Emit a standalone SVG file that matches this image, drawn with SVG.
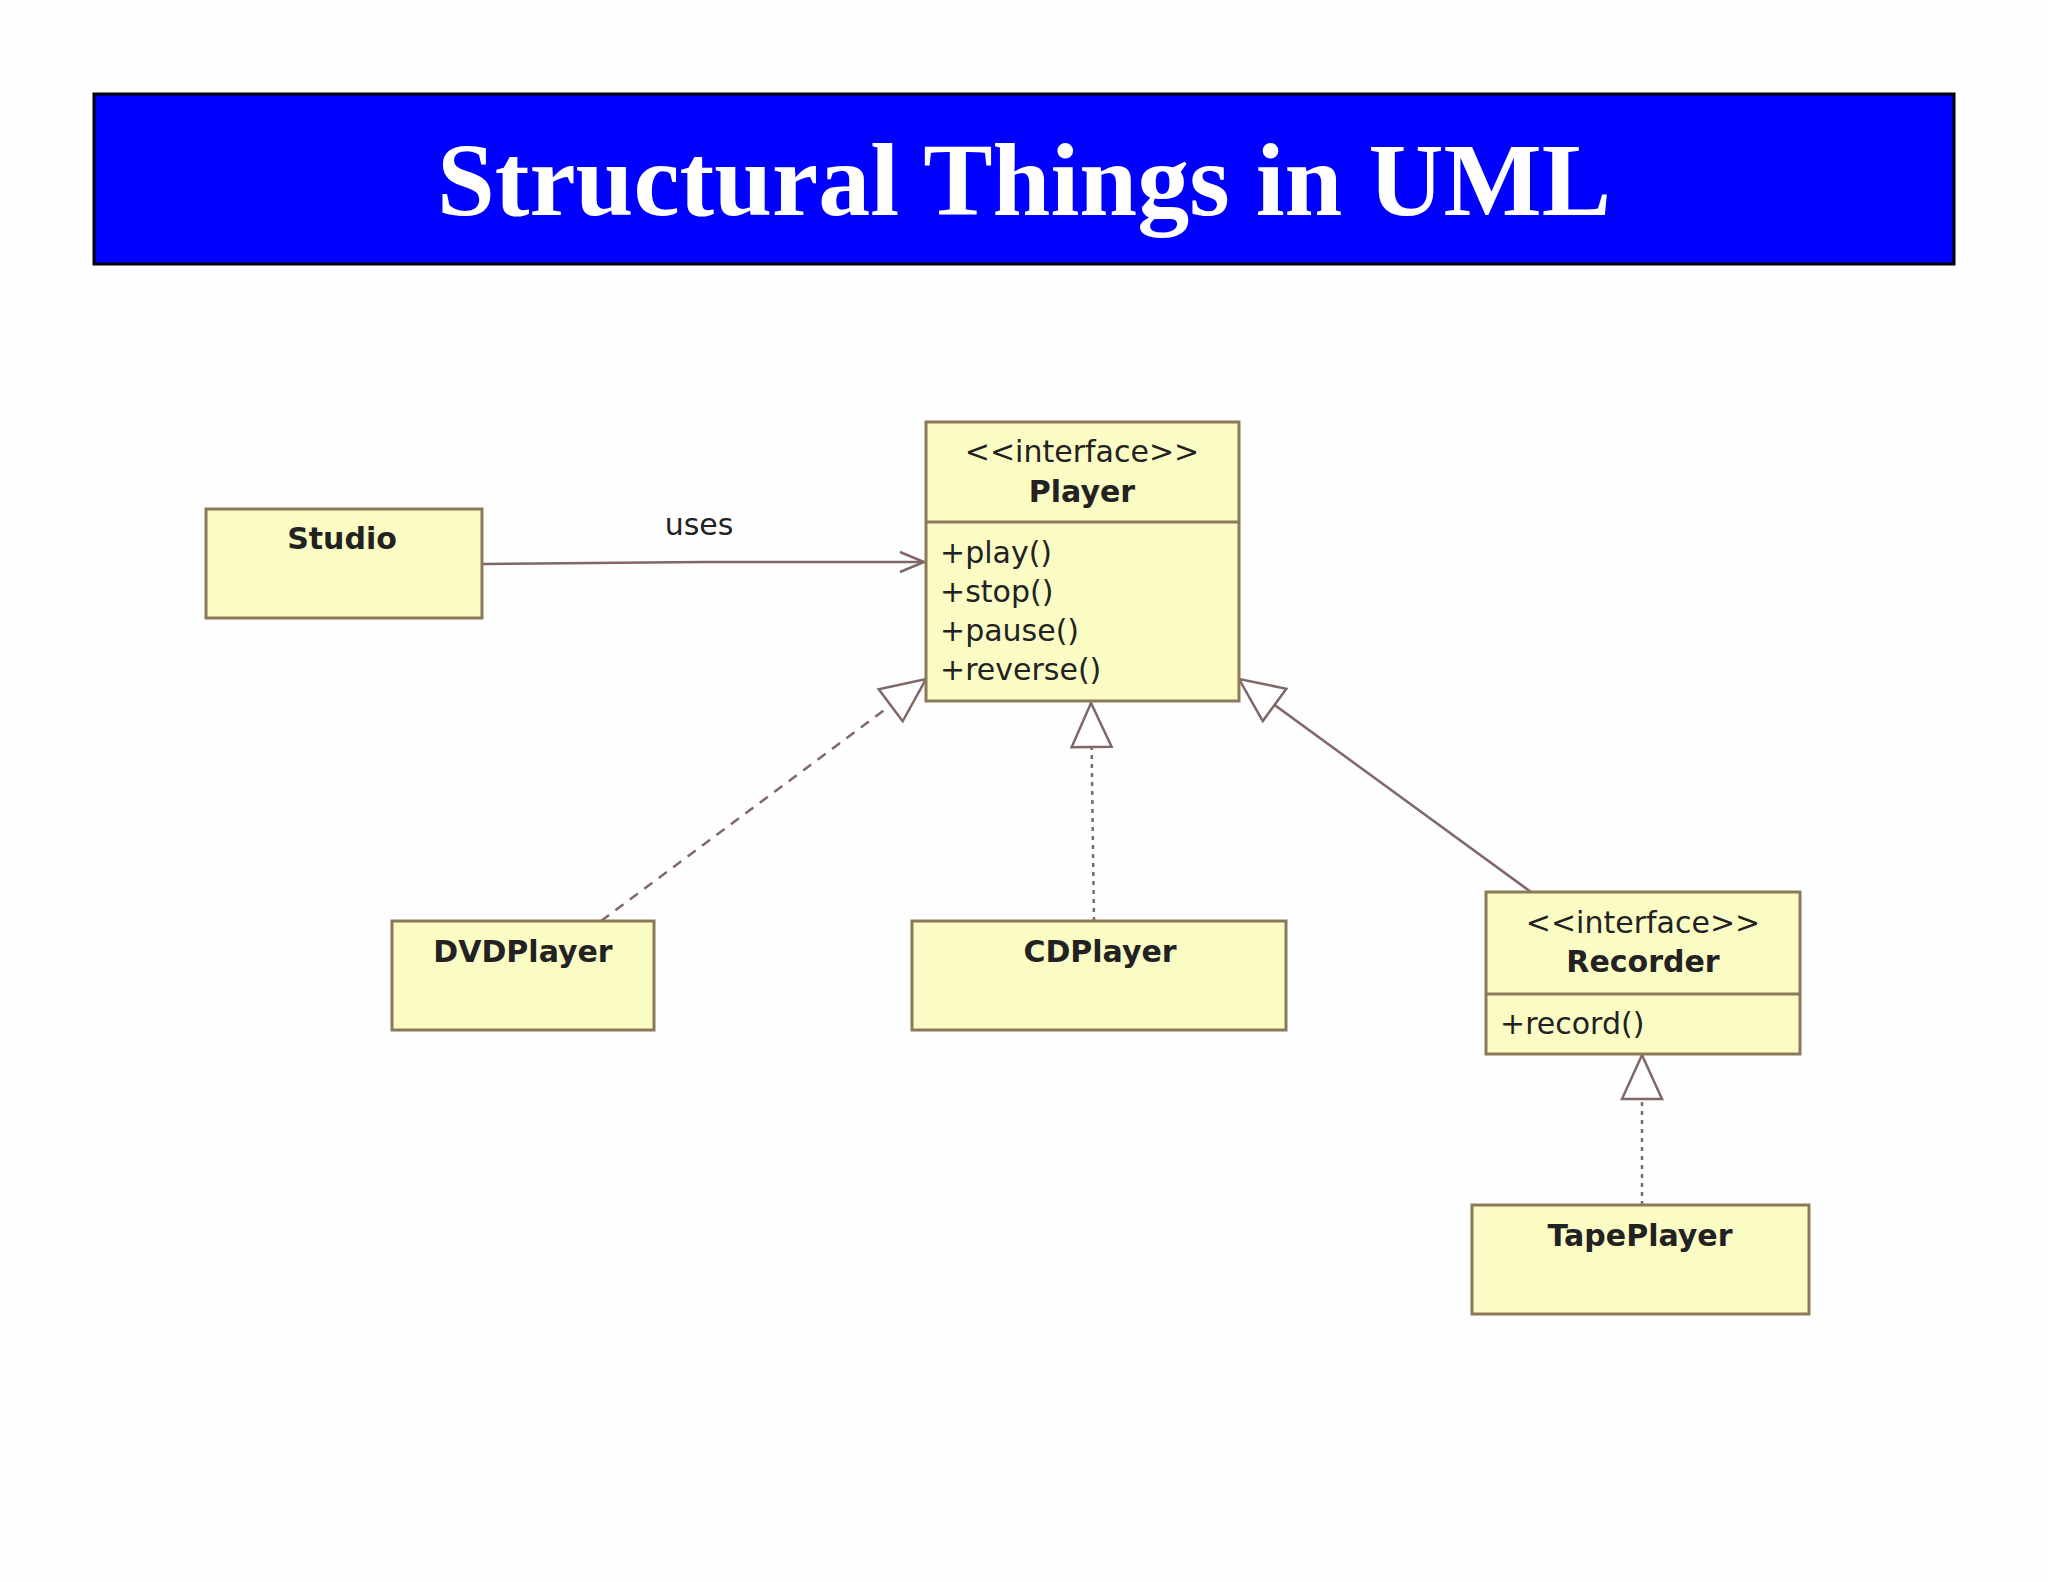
<svg xmlns="http://www.w3.org/2000/svg" width="2048" height="1582" viewBox="0 0 2048 1582">
<style>
.box{fill:#fbfbc4;stroke:#8a7a5a;stroke-width:3}
.t{font-family:"DejaVu Sans",sans-serif;font-size:30px;fill:#222;text-anchor:middle}
.b{font-weight:bold}
.m{font-family:"DejaVu Sans",sans-serif;font-size:30px;fill:#222}
.c{fill:none;stroke:#806868;stroke-width:2.5}
.dash{stroke-dasharray:10 8}
.dot{stroke-dasharray:4 5}
</style>
<defs>
<marker id="tri" markerUnits="userSpaceOnUse" markerWidth="50" markerHeight="50" refX="46" refY="22" orient="auto">
<path d="M2,2 L46,22 L2,42 Z" fill="#fff" stroke="#806868" stroke-width="2.5"/>
</marker>
<marker id="open" markerUnits="userSpaceOnUse" markerWidth="30" markerHeight="30" refX="26" refY="12" orient="auto">
<path d="M2,2 L26,12 L2,22" fill="none" stroke="#806868" stroke-width="2.5"/>
</marker>
</defs>
<rect width="2048" height="1582" fill="#fefefe"/>
<g id="title">
<rect x="94" y="94" width="1860" height="170" fill="#0000ff" stroke="#000" stroke-width="3"/>
<text x="1024" y="215" font-family="Liberation Serif, serif" font-weight="bold" font-size="104" fill="#fff" text-anchor="middle">Structural Things in UML</text>
</g>
<g id="connectors">
<path class="c" d="M482,564 L705,562 L924,562" marker-end="url(#open)"/>
<text x="699" y="535" class="t" fill="#444">uses</text>
<path class="c dash" d="M601,921 L926,679" marker-end="url(#tri)"/>
<path class="c dot" d="M1094,921 L1091,703" marker-end="url(#tri)"/>
<path class="c" d="M1531,892 L1239,679" marker-end="url(#tri)"/>
<path class="c dot" d="M1642,1205 L1642,1055" marker-end="url(#tri)"/>
</g>
<g id="Player">
<rect class="box" x="926" y="422" width="313" height="279"/>
<line x1="926" y1="522" x2="1239" y2="522" stroke="#8a7a5a" stroke-width="3"/>
<text class="t" x="1082" y="462">&lt;&lt;interface&gt;&gt;</text>
<text class="t b" x="1082" y="502">Player</text>
<text class="m" x="940" y="563">+play()</text>
<text class="m" x="940" y="602">+stop()</text>
<text class="m" x="940" y="641">+pause()</text>
<text class="m" x="940" y="680">+reverse()</text>
</g>
<g id="Studio">
<rect class="box" x="206" y="509" width="276" height="109"/>
<text class="t b" x="342" y="549">Studio</text>
</g>
<g id="DVDPlayer">
<rect class="box" x="392" y="921" width="262" height="109"/>
<text class="t b" x="523" y="962">DVDPlayer</text>
</g>
<g id="CDPlayer">
<rect class="box" x="912" y="921" width="374" height="109"/>
<text class="t b" x="1100" y="962">CDPlayer</text>
</g>
<g id="Recorder">
<rect class="box" x="1486" y="892" width="314" height="162"/>
<line x1="1486" y1="994" x2="1800" y2="994" stroke="#8a7a5a" stroke-width="3"/>
<text class="t" x="1643" y="933">&lt;&lt;interface&gt;&gt;</text>
<text class="t b" x="1643" y="972">Recorder</text>
<text class="m" x="1500" y="1034">+record()</text>
</g>
<g id="TapePlayer">
<rect class="box" x="1472" y="1205" width="337" height="109"/>
<text class="t b" x="1640" y="1246">TapePlayer</text>
</g>
</svg>
